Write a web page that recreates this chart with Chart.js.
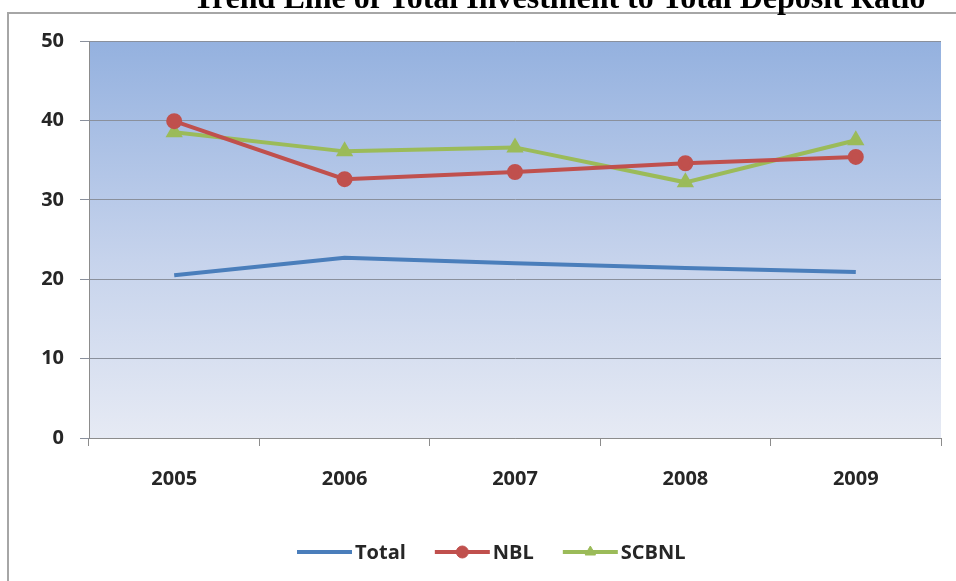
<!DOCTYPE html>
<html>
<head>
<meta charset="utf-8">
<script src="https://cdn.jsdelivr.net/npm/chart.js@4.4.1/dist/chart.umd.min.js"></script>
<style>
  html, body { margin: 0; padding: 0; background: #fff; }
  #wrap { position: relative; width: 956px; height: 581px; }
</style>
</head>
<body>
<div id="wrap"><canvas id="trendChart" width="956" height="581"></canvas></div>
<script>
const chartTitle = 'Trend Line of Total Investment to Total Deposit Ratio';
const years = ['2005', '2006', '2007', '2008', '2009'];
const totalRatio = [20.5, 22.7, 22.0, 21.4, 20.9];
const nblRatio = [39.9, 32.6, 33.5, 34.6, 35.4];
const scbnlRatio = [38.5, 36.1, 36.6, 32.2, 37.5];
const yTicks = [0, 10, 20, 30, 40, 50];

const labelFont = "'Open Sans', 'DejaVu Sans', sans-serif";

// frame, plot background gradient and the cropped title
const frameAndBackground = {
    id: 'frameAndBackground',
    beforeDraw(chart) {
        const ctx = chart.ctx;
        const area = chart.chartArea;
        ctx.save();
        ctx.fillStyle = '#ffffff';
        ctx.fillRect(0, 0, chart.width, chart.height);

        ctx.strokeStyle = '#a6a6a6';
        ctx.lineWidth = 2;
        ctx.beginPath();
        ctx.moveTo(8, chart.height);
        ctx.lineTo(8, 13);
        ctx.lineTo(chart.width, 13);
        ctx.stroke();

        const gradient = ctx.createLinearGradient(0, area.top, 0, area.bottom);
        gradient.addColorStop(0, '#94b1df');
        gradient.addColorStop(0.55, '#c6d3ec');
        gradient.addColorStop(1, '#e6eaf4');
        ctx.fillStyle = gradient;
        ctx.fillRect(area.left, area.top, area.right - area.left, area.bottom - area.top);

        ctx.fillStyle = '#000';
        ctx.font = "bold 32px 'Liberation Serif', 'Times New Roman', serif";
        ctx.textAlign = 'left';
        ctx.textBaseline = 'alphabetic';
        ctx.fillText(chartTitle, 193, 8);
        ctx.restore();
    }
};

// legend with line + marker samples, drawn under the axis labels
const sampleLegend = {
    id: 'sampleLegend',
    afterDraw(chart) {
        const ctx = chart.ctx;
        const y = 552;
        const lineLen = 55;
        const gapText = 3;
        const gapItem = 29;
        ctx.save();
        ctx.font = 'bold 20px ' + labelFont;
        ctx.textBaseline = 'middle';
        let x = 297;
        chart.data.datasets.forEach(ds => {
            ctx.strokeStyle = ds.borderColor;
            ctx.lineWidth = 4;
            ctx.beginPath();
            ctx.moveTo(x, y);
            ctx.lineTo(x + lineLen, y);
            ctx.stroke();
            if (ds.pointRadius > 0) {
                ctx.fillStyle = ds.pointBackgroundColor;
                ctx.strokeStyle = ds.pointBorderColor;
                ctx.lineWidth = 1;
                Chart.helpers.drawPoint(ctx, {
                    pointStyle: ds.pointStyle,
                    radius: ds.pointRadius,
                    borderWidth: 1
                }, x + lineLen / 2, y);
            }
            x += lineLen + gapText;
            ctx.fillStyle = '#262626';
            ctx.fillText(ds.label, x, y + 1);
            x += ctx.measureText(ds.label).width + gapItem;
        });
        ctx.restore();
    }
};

const ctx = document.getElementById('trendChart').getContext('2d');
new Chart(ctx, {
    type: 'line',
    data: {
        labels: years,
        datasets: [
            {
                label: 'Total',
                data: totalRatio,
                borderColor: '#4a7ebb',
                borderWidth: 4,
                pointRadius: 0,
                tension: 0
            },
            {
                label: 'NBL',
                data: nblRatio,
                borderColor: '#c0504d',
                backgroundColor: '#c0504d',
                borderWidth: 4,
                pointStyle: 'circle',
                pointRadius: 6,
                pointBackgroundColor: '#c0504d',
                pointBorderColor: '#c0504d',
                tension: 0
            },
            {
                label: 'SCBNL',
                data: scbnlRatio,
                borderColor: '#9bbb59',
                backgroundColor: '#9bbb59',
                borderWidth: 4,
                pointStyle: 'triangle',
                pointRadius: 6,
                pointBackgroundColor: '#9bbb59',
                pointBorderColor: '#9bbb59',
                tension: 0
            }
        ]
    },
    options: {
        responsive: false,
        animation: false,
        layout: {
            padding: { top: 41, right: 15, left: 0, bottom: 0 }
        },
        plugins: {
            legend: { display: false },
            title: { display: false },
            tooltip: { enabled: false }
        },
        scales: {
            x: {
                offset: true,
                grid: {
                    offset: true,
                    drawOnChartArea: false,
                    drawTicks: true,
                    tickLength: 8,
                    color: '#8c8c8c'
                },
                border: { color: '#8c8c8c', width: 1 },
                ticks: {
                    color: '#262626',
                    padding: 21,
                    font: { family: labelFont, size: 20, weight: 'bold' }
                },
                afterFit(scale) { scale.height = 143; }
            },
            y: {
                min: 0,
                max: 50,
                afterBuildTicks(scale) {
                    scale.ticks = yTicks.map(v => ({ value: v }));
                },
                grid: {
                    color: '#8a909c',
                    lineWidth: 1,
                    tickLength: 9
                },
                border: { color: '#8c8c8c', width: 1 },
                ticks: {
                    color: '#262626',
                    padding: 16,
                    font: { family: labelFont, size: 20, weight: 'bold' }
                },
                afterFit(scale) { scale.width = 89; }
            }
        }
    },
    plugins: [frameAndBackground, sampleLegend]
});
</script>
</body>
</html>
